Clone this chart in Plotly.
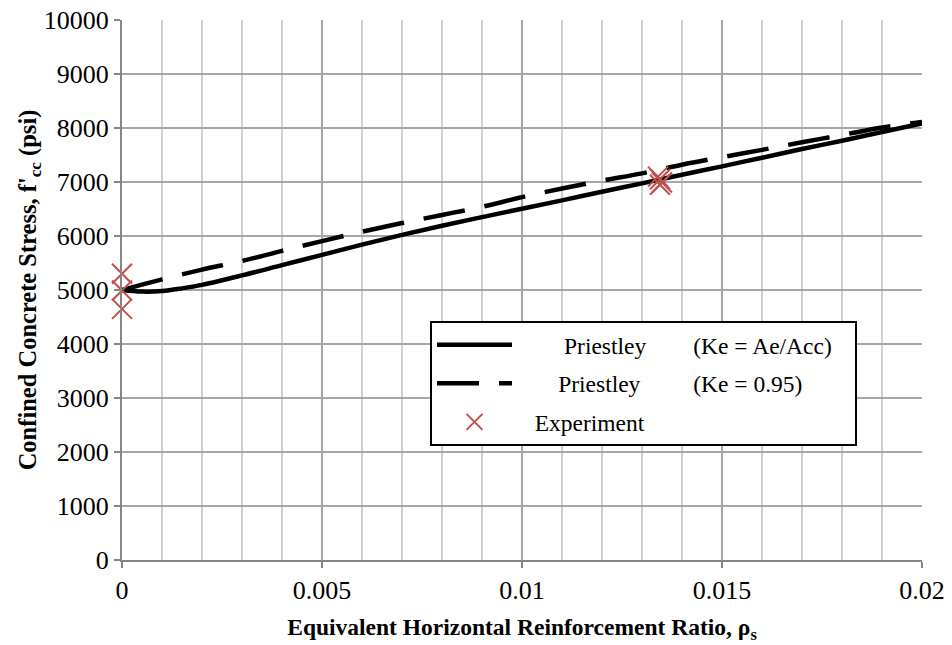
import plotly.graph_objects as go

# ---- data ----
rho_solid = [0, 0.0005, 0.001, 0.0015, 0.002, 0.003, 0.004, 0.005, 0.006, 0.007, 0.008,
             0.009, 0.010, 0.011, 0.012, 0.013, 0.014, 0.015, 0.016, 0.017, 0.018, 0.019, 0.020]
fcc_solid = [5000, 4970, 4980, 5030, 5095, 5270, 5460, 5650, 5840, 6020, 6190,
             6350, 6505, 6660, 6820, 6975, 7135, 7290, 7450, 7610, 7765, 7925, 8085]

rho_dash = [0, 0.001, 0.002, 0.003, 0.004, 0.005, 0.006, 0.007, 0.008, 0.009, 0.010,
            0.011, 0.012, 0.013, 0.014, 0.015, 0.016, 0.017, 0.018, 0.019, 0.020]
fcc_dash = [5000, 5198, 5377, 5537, 5725, 5905, 6080, 6240, 6390, 6540, 6720,
            6880, 7025, 7160, 7320, 7460, 7595, 7735, 7870, 8010, 8110]

rho_exp = [0, 0, 0, 0.0134, 0.01345, 0.0135, 0.01345]
fcc_exp = [5300, 4990, 4650, 7100, 7050, 6990, 6950]

x_ticks = [0, 0.005, 0.01, 0.015, 0.02]
x_tick_text = ["0", "0.005", "0.01", "0.015", "0.02"]
y_ticks = [0, 1000, 2000, 3000, 4000, 5000, 6000, 7000, 8000, 9000, 10000]
y_tick_text = [str(v) for v in y_ticks]

FONT = "Liberation Serif"
RED = "#c0504d"
NB = "\u00a0"

fig = go.Figure()
fig.add_trace(go.Scatter(
    x=rho_solid, y=fcc_solid, mode="lines", line=dict(color="black", width=4.5, shape="spline"),
    name=NB * 8 + "Priestley" + NB * 8 + "(Ke = Ae/Acc)" + NB * 3,
    legendgroup="a", cliponaxis=False))
fig.add_trace(go.Scatter(
    x=rho_dash, y=fcc_dash, mode="lines",
    line=dict(color="black", width=4.5, dash="42px,20px", shape="spline"),
    name=NB * 7 + "Priestley" + NB * 9 + "(Ke = 0.95)",
    legendgroup="b", cliponaxis=False))
fig.add_trace(go.Scatter(
    x=rho_exp, y=fcc_exp, mode="markers",
    marker=dict(symbol="x-thin-open", size=20, line=dict(color=RED, width=2), color=RED),
    name=NB * 3 + "Experiment", legendgroup="c", cliponaxis=False))

fig.update_layout(
    width=952, height=645,
    margin=dict(l=122, r=30, t=20, b=85, autoexpand=False),
    paper_bgcolor="white", plot_bgcolor="white",
    font=dict(family=FONT, color="black", size=26),
    legend=dict(
        x=(430 - 122) / 800, y=(560 - 321) / 540, xanchor="left", yanchor="top",
        bgcolor="white", bordercolor="black", borderwidth=2,
        font=dict(family=FONT, size=23.5, color="black"),
        tracegroupgap=5, itemwidth=75,
    ),
)

fig.update_xaxes(
    range=[0, 0.02], tickmode="array", tickvals=x_ticks, ticktext=x_tick_text,
    showgrid=True, gridcolor="#a6a6a6", gridwidth=1.5,
    minor=dict(dtick=0.001, showgrid=True, gridcolor="#cfcfcf", gridwidth=1.5),
    showline=True, linecolor="#868686", linewidth=2,
    ticks="outside", ticklen=6, tickcolor="#868686", tickwidth=1.5,
    zeroline=False, automargin=False,
    tickfont=dict(family=FONT, size=26),
    title=dict(text="<b>Equivalent Horizontal Reinforcement Ratio, \u03c1<sub>s</sub></b>",
               font=dict(family=FONT, size=23.5), standoff=14),
)
fig.update_yaxes(
    range=[0, 10000], tickmode="array", tickvals=y_ticks, ticktext=y_tick_text,
    showgrid=True, gridcolor="#a6a6a6", gridwidth=1.5,
    showline=True, linecolor="#868686", linewidth=2,
    ticks="outside", ticklen=6, tickcolor="#868686", tickwidth=1.5,
    zeroline=False, automargin=False,
    tickfont=dict(family=FONT, size=26),
    title=dict(text="<b>Confined Concrete Stress, f'<sub>cc</sub> (psi)</b>",
               font=dict(family=FONT, size=24.5), standoff=0),
)

fig.write_html("out.html")
